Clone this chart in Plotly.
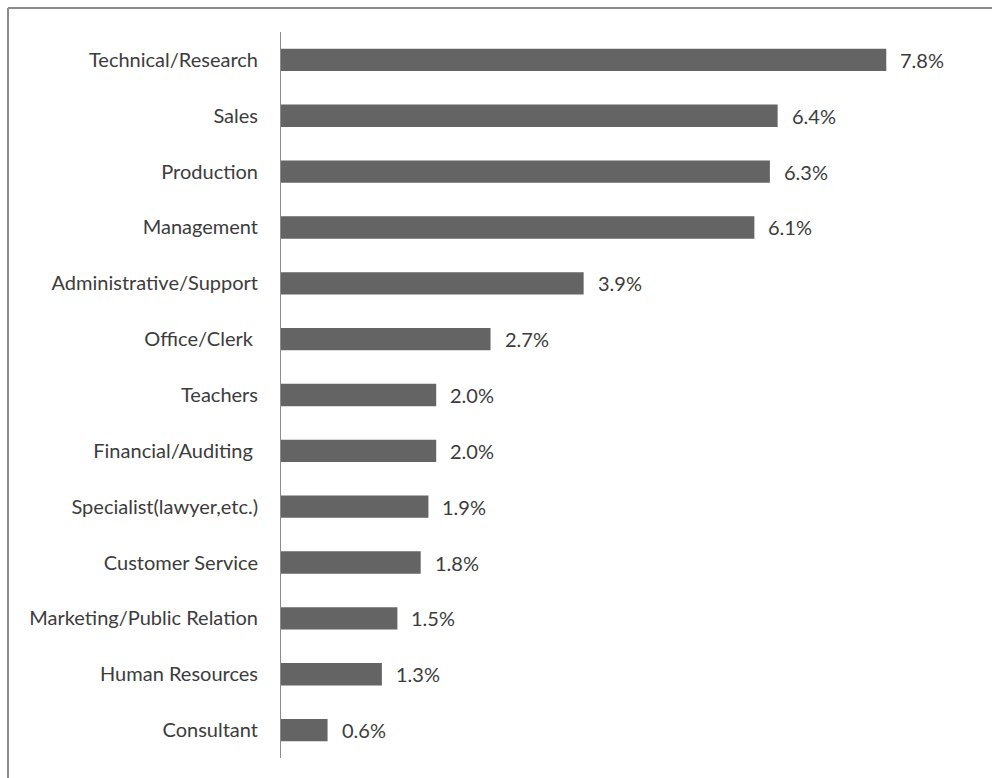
import plotly.graph_objects as go

categories = [
    "Technical/Research", "Sales", "Production", "Management",
    "Administrative/Support", "Office/Clerk\u00a0", "Teachers",
    "Financial/Auditing\u00a0", "Specialist(lawyer,etc.)", "Customer Service",
    "Marketing/Public Relation", "Human Resources", "Consultant",
]
values = [7.8, 6.4, 6.3, 6.1, 3.9, 2.7, 2.0, 2.0, 1.9, 1.8, 1.5, 1.3, 0.6]
value_labels = [f"{v:.1f}%" for v in values]

W, H = 992, 778
L, R, T, B = 281, 42, 32, 20
plot_w = W - L - R
plot_h = H - T - B
x_max = plot_w / 77.6

font_family = "Lato, 'Open Sans', sans-serif"
font_size = 20
text_color = "#3c3c3c"

fig = go.Figure(go.Bar(
    x=values,
    y=categories,
    orientation="h",
    width=0.4,
    marker=dict(color="#646464", line=dict(width=0)),
    hoverinfo="skip",
))

# value labels to the right of each bar
for cat, v, lab in zip(categories, values, value_labels):
    fig.add_annotation(
        x=v, y=cat, text=lab, showarrow=False,
        xanchor="left", yanchor="middle", xshift=12,
        font=dict(family=font_family, size=font_size, color=text_color),
    )

# outer frame (top and left edges)
def px_to_paper_x(px):
    return (px - L) / plot_w

def px_to_paper_y(py):
    return (H - B - py) / plot_h

frame = dict(color="#8c8c8c", width=2)
fig.add_shape(type="line", xref="paper", yref="paper",
              x0=px_to_paper_x(8), x1=px_to_paper_x(W + 5),
              y0=px_to_paper_y(8), y1=px_to_paper_y(8), line=frame)
fig.add_shape(type="line", xref="paper", yref="paper",
              x0=px_to_paper_x(8), x1=px_to_paper_x(8),
              y0=px_to_paper_y(8), y1=px_to_paper_y(H + 5), line=frame)

fig.update_layout(
    width=W, height=H,
    margin=dict(l=L, r=R, t=T, b=B, pad=0),
    paper_bgcolor="white", plot_bgcolor="white",
    showlegend=False,
    font=dict(family=font_family, size=font_size, color=text_color),
    xaxis=dict(range=[0, x_max], visible=False, fixedrange=True),
    yaxis=dict(
        autorange="reversed",
        showline=True, linecolor="#8c8c8c", linewidth=1,
        showgrid=False, zeroline=False, ticks="",
        ticklabelstandoff=18,
        tickfont=dict(family=font_family, size=font_size, color=text_color),
        automargin=False,
    ),
)

fig.write_html("out.html")
